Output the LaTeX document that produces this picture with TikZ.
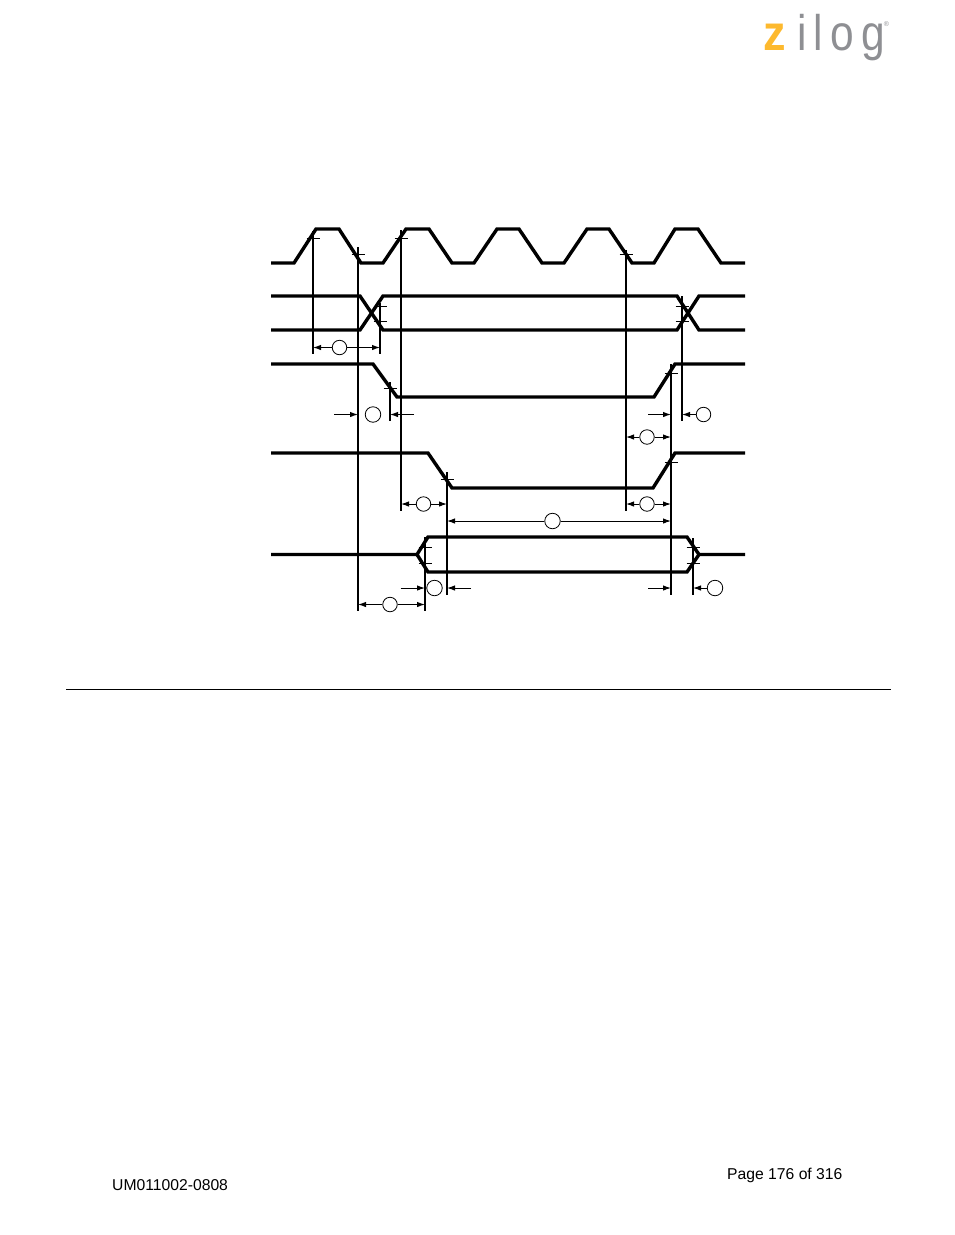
\documentclass[tikz,border=0pt]{standalone}
\usepackage{fontspec}
\usetikzlibrary{arrows.meta}
\setmainfont{Liberation Sans}
\newfontfamily\logofont[LetterSpace=17]{Liberation Sans}
\definecolor{zorange}{HTML}{FDB92E}
\definecolor{zgray}{HTML}{8E8F93}

\tikzset{
  wave/.style={line width=3.4pt, line join=miter},
  refline/.style={line width=1.3pt},
  tickmark/.style={line width=0.9pt},
  tmark/.style={circle, draw, line width=0.8pt, minimum size=14.5pt, inner sep=0pt, fill=white},
  dimline/.style={line width=1pt, ->},
  footer/.style={anchor=base west, font=\fontsize{15.7}{18}\selectfont, inner sep=0pt},
}

\begin{document}
\begin{tikzpicture}[x=1pt, y=-1pt, >={Latex[length=8pt,width=5.5pt]}]
\useasboundingbox (0,0) rectangle (954,1235);

% logo
\node[anchor=base, inner sep=0pt, text=zorange, font=\fontsize{50}{50}\bfseries\selectfont, xscale=0.9] (logoz) at (775,50) {z};
\node[anchor=base west, inner sep=0pt, text=zgray, font=\logofont\fontsize{50}{50}\selectfont, xscale=0.85] (logoilog) at (797,50) {ilog};
\node[anchor=center, inner sep=0pt, text=zgray, font=\fontsize{7}{7}\selectfont] (logoreg) at (886.5,24) {®};

% waveforms
\draw[wave] (271,263) -- (294,263) -- (316,229) -- (339,229) -- (361,263) -- (383,263) -- (406,229) -- (429,229)
  -- (452,263) -- (474,263) -- (497,229) -- (519,229) -- (542,263) -- (564,263) -- (587,229) -- (609,229)
  -- (632,263) -- (654,263) -- (675,229) -- (698,229) -- (721,263) -- (745,263);
\draw[wave] (271,296) -- (360,296) -- (383,330) -- (677,330) -- (699,296) -- (745,296);
\draw[wave] (271,330) -- (360,330) -- (383,296) -- (677,296) -- (699,330) -- (745,330);
\draw[wave] (271,364) -- (373,364) -- (397,397) -- (654,397) -- (675,364) -- (745,364);
\draw[wave] (271,453) -- (428,453) -- (452,488) -- (653,488) -- (675,453) -- (745,453);
\draw[wave] (271,554.5) -- (417,554.5) -- (428,537) -- (687,537) -- (699,554.5) -- (745,554.5);
\draw[wave] (417,554.5) -- (428,572) -- (687,572) -- (699,554.5);

% timing reference lines
\foreach \name/\x/\ytop/\ybot in {va/313/231/354, vb/358/247/611, vc/380/303/354, vd/401/230/511,
    ve/390/382/421, vf/447/472/595, vg/425/537/611, vh/626/250/511, vi/682/296/421, vj/671/364/595, vk/693/538/595} {
  \coordinate (\name t) at (\x,\ytop);
  \coordinate (\name b) at (\x,\ybot);
  \draw[refline] (\name t) -- (\name b);
}

% crossing ticks
\foreach \x/\y in {313/238, 358/254, 401/238, 626/254, 380/306, 380/321, 682/306, 682/321, 390/388,
    671/373, 447/479, 671/462, 425/547, 425/563, 693/547, 693/563} {
  \draw[tickmark] ({\x-6.5},\y) -- ({\x+6.5},\y);
}

% numbered circles
\node[tmark] (ma) at (339.5,347.5) {};
\node[tmark, minimum size=15.5pt] (mb) at (373,414.5) {};
\node[tmark] (mc) at (703.5,414.5) {};
\node[tmark] (md) at (647,437) {};
\node[tmark] (me) at (423.5,504) {};
\node[tmark] (mf) at (647,504) {};
\node[tmark, minimum size=15.5pt] (mg) at (552.5,521) {};
\node[tmark, minimum size=15.5pt] (mh) at (434.5,588) {};
\node[tmark, minimum size=15.5pt] (mi) at (715,588) {};
\node[tmark] (mj) at (390,604.5) {};

% free arrow tails
\coordinate (tb) at (334,414.5);
\coordinate (te) at (414,414.5);
\coordinate (tc) at (648,414.5);
\coordinate (tg) at (400.5,588);
\coordinate (th) at (471,588);
\coordinate (ti) at (648,588);

% dimension arrows
\draw[dimline] (ma) -- (ma -| vat);
\draw[dimline] (ma) -- (ma -| vct);
\draw[dimline] (tb) -- (tb -| vbt);
\draw[dimline] (te) -- (te -| vet);
\draw[dimline] (tc) -- (tc -| vjt);
\draw[dimline] (mc) -- (mc -| vit);
\draw[dimline] (md) -- (md -| vht);
\draw[dimline] (md) -- (md -| vjt);
\draw[dimline] (me) -- (me -| vdt);
\draw[dimline] (me) -- (me -| vft);
\draw[dimline] (mf) -- (mf -| vht);
\draw[dimline] (mf) -- (mf -| vjt);
\draw[dimline] (mg) -- (mg -| vft);
\draw[dimline] (mg) -- (mg -| vjt);
\draw[dimline] (tg) -- (tg -| vgt);
\draw[dimline] (th) -- (th -| vft);
\draw[dimline] (ti) -- (ti -| vjt);
\draw[dimline] (mi) -- (mi -| vkt);
\draw[dimline] (mj) -- (mj -| vbt);
\draw[dimline] (mj) -- (mj -| vgt);

% page rule and footer
\coordinate (rulel) at (66,689.5);
\coordinate (ruler) at (891,689.5);
\draw[line width=0.8pt] (rulel) -- (ruler);
\node[footer] (docnum) at (112,1190) {UM011002-0808};
\node[footer] (pagenum) at (727,1179) {Page 176 of 316};

\end{tikzpicture}
\end{document}
